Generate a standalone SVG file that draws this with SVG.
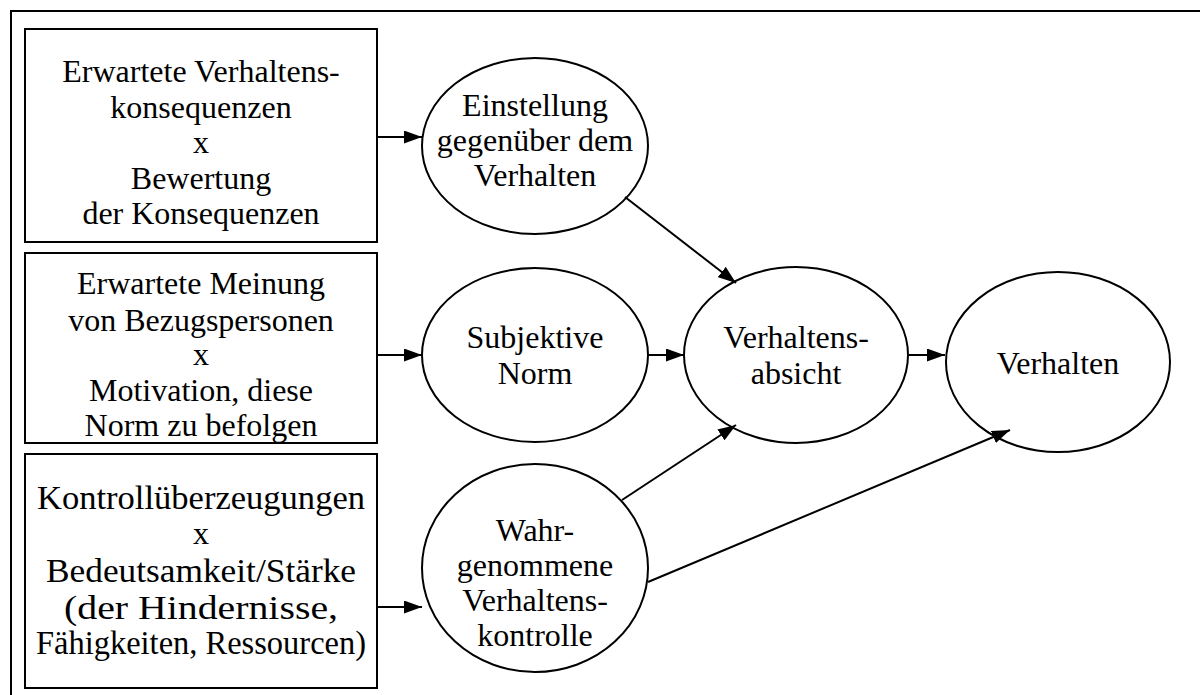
<svg xmlns="http://www.w3.org/2000/svg" width="1200" height="695" viewBox="0 0 1200 695">
  <style>
    .frame { fill: none; stroke: #000; stroke-width: 2; }
    .box { fill: #fff; stroke: #000; stroke-width: 2; }
    .node { fill: #fff; stroke: #000; stroke-width: 2; }
    .edge { fill: none; stroke: #000; stroke-width: 2; }
    text { font-family: "Liberation Serif", "Times New Roman", serif; font-size: 32px; fill: #000; text-anchor: middle; }
    .wide { font-size: 34px; }
  </style>
  <defs>
    <marker id="arrow" viewBox="0 0 18 13" refX="18" refY="6.5" markerWidth="18" markerHeight="13" markerUnits="userSpaceOnUse" orient="auto">
      <path d="M0,0 L18,6.5 L0,13 z" fill="#000"/>
    </marker>
  </defs>
  <rect width="1200" height="695" fill="#fff"/>

  <!-- outer frame, open to the right and bottom -->
  <path class="frame" d="M11,700 V11 H1205"/>

  <g id="belief-consequences">
    <rect class="box" x="25" y="29" width="352" height="213"/>
    <text x="201" y="82">Erwartete Verhaltens-</text>
    <text x="201" y="118">konsequenzen</text>
    <text x="201" y="153">x</text>
    <text x="201" y="189">Bewertung</text>
    <text x="201" y="224">der Konsequenzen</text>
  </g>
  <g id="normative-beliefs">
    <rect class="box" x="25" y="253" width="352" height="190"/>
    <text x="201" y="294">Erwartete Meinung</text>
    <text x="201" y="331">von Bezugspersonen</text>
    <text x="201" y="365">x</text>
    <text x="201" y="401">Motivation, diese</text>
    <text x="201" y="436">Norm zu befolgen</text>
  </g>
  <g id="control-beliefs">
    <rect class="box" x="25" y="454" width="352" height="234"/>
    <text class="wide" x="201" y="509" textLength="328" lengthAdjust="spacingAndGlyphs">Kontrollüberzeugungen</text>
    <text x="201" y="544">x</text>
    <text class="wide" x="201" y="582" textLength="310" lengthAdjust="spacingAndGlyphs">Bedeutsamkeit/Stärke</text>
    <text class="wide" x="201" y="619" textLength="274" lengthAdjust="spacingAndGlyphs">(der Hindernisse,</text>
    <text class="wide" x="201" y="654" textLength="330" lengthAdjust="spacingAndGlyphs">Fähigkeiten, Ressourcen)</text>
  </g>

  <g id="attitude">
    <ellipse class="node" cx="535" cy="146" rx="113" ry="88"/>
    <text x="535" y="116">Einstellung</text>
    <text x="535" y="151">gegenüber dem</text>
    <text x="535" y="186">Verhalten</text>
  </g>
  <g id="subjective-norm">
    <ellipse class="node" cx="535" cy="355" rx="113" ry="87"/>
    <text x="535" y="348">Subjektive</text>
    <text x="535" y="384">Norm</text>
  </g>
  <g id="perceived-control">
    <ellipse class="node" cx="535" cy="568" rx="113" ry="104"/>
    <text x="535" y="541">Wahr-</text>
    <text x="535" y="576">genommene</text>
    <text x="535" y="611">Verhaltens-</text>
    <text x="535" y="646">kontrolle</text>
  </g>
  <g id="intention">
    <ellipse class="node" cx="796" cy="355" rx="112" ry="88"/>
    <text x="796" y="348">Verhaltens-</text>
    <text x="796" y="384">absicht</text>
  </g>
  <g id="behaviour">
    <ellipse class="node" cx="1058" cy="362" rx="112" ry="90"/>
    <text x="1058" y="374">Verhalten</text>
  </g>

  <g id="connectors">
    <line class="edge" x1="377" y1="137" x2="422" y2="137" marker-end="url(#arrow)"/>
    <line class="edge" x1="377" y1="355" x2="422" y2="355" marker-end="url(#arrow)"/>
    <line class="edge" x1="377" y1="607" x2="422" y2="607" marker-end="url(#arrow)"/>
    <line class="edge" x1="648" y1="355" x2="684" y2="355" marker-end="url(#arrow)"/>
    <line class="edge" x1="908" y1="355" x2="945" y2="355" marker-end="url(#arrow)"/>
    <line class="edge" x1="625" y1="197" x2="736" y2="283" marker-end="url(#arrow)"/>
    <line class="edge" x1="622" y1="500" x2="736" y2="425" marker-end="url(#arrow)"/>
    <line class="edge" x1="648" y1="582" x2="1010" y2="430" marker-end="url(#arrow)"/>
  </g>
</svg>
